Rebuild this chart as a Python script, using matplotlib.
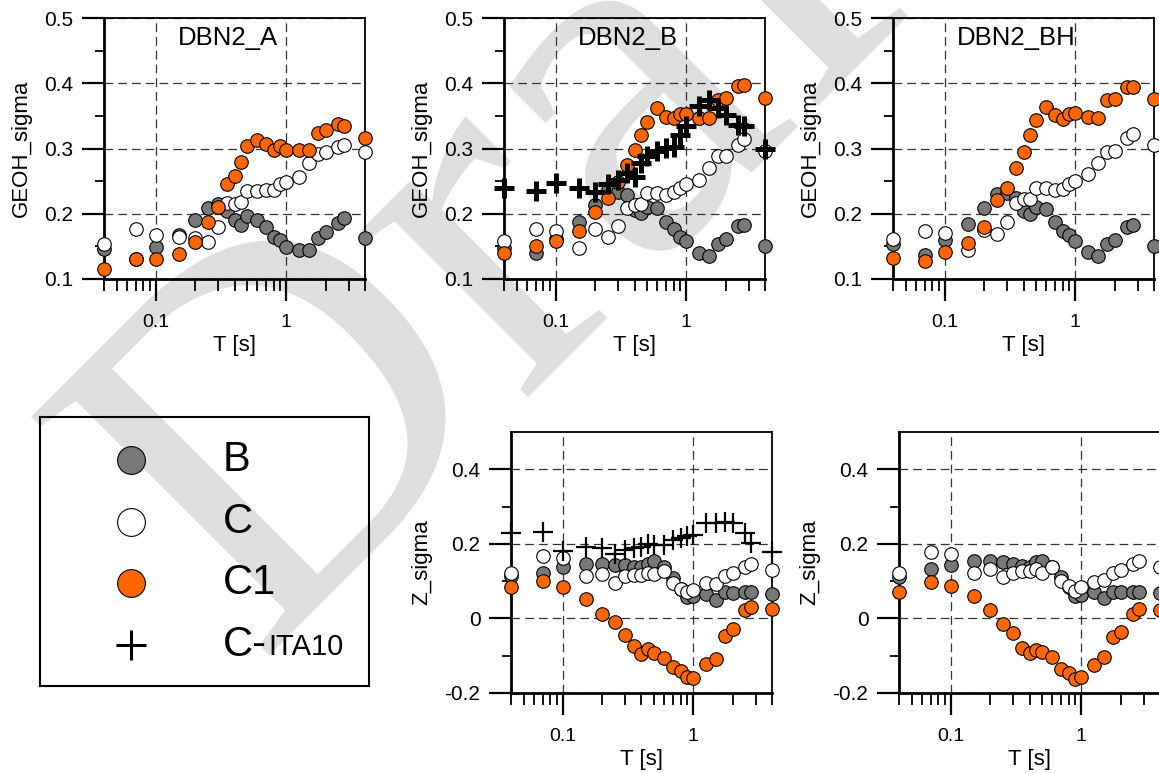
import matplotlib
matplotlib.use("Agg")
import matplotlib.pyplot as plt
from matplotlib.ticker import FixedLocator, FixedFormatter, NullFormatter

plt.rcParams["font.family"] = ["Liberation Sans", "DejaVu Sans"]

# ---------------------------------------------------------------------------
# Data
# ---------------------------------------------------------------------------
periods = [0.04, 0.07, 0.1, 0.15, 0.2, 0.25, 0.3, 0.35, 0.4, 0.45, 0.5, 0.6,
           0.7, 0.8, 0.9, 1.0, 1.25, 1.5, 1.75, 2.0, 2.5, 2.75, 4.0]

# GEOH_sigma, DBN2_A
a_B = [0.146, 0.130, 0.149, 0.167, 0.191, 0.209, 0.215, 0.204, 0.191, 0.183, 0.196, 0.191,
       0.180, 0.165, 0.160, 0.149, 0.144, 0.145, 0.163, 0.172, 0.186, 0.193, 0.163]
a_C = [0.154, 0.176, 0.168, 0.165, 0.163, 0.156, 0.179, 0.216, 0.215, 0.218, 0.235, 0.235,
       0.236, 0.237, 0.246, 0.249, 0.256, 0.278, 0.292, 0.294, 0.303, 0.306, 0.294]
a_C1 = [0.115, 0.131, 0.131, 0.139, 0.156, 0.188, 0.211, 0.245, 0.258, 0.279, 0.304, 0.313,
        0.307, 0.297, 0.304, 0.298, 0.297, 0.298, 0.323, 0.329, 0.337, 0.334, 0.316]

# GEOH_sigma, DBN2_B
b_B = [0.148, 0.140, 0.162, 0.188, 0.214, 0.237, 0.234, 0.228, 0.206, 0.201, 0.211, 0.209,
       0.187, 0.176, 0.165, 0.158, 0.140, 0.136, 0.153, 0.161, 0.181, 0.183, 0.151]
b_C = [0.158, 0.176, 0.173, 0.148, 0.177, 0.164, 0.181, 0.209, 0.214, 0.215, 0.232, 0.232,
       0.228, 0.233, 0.239, 0.245, 0.252, 0.270, 0.288, 0.288, 0.306, 0.315, 0.296]
b_C1 = [0.140, 0.150, 0.159, 0.174, 0.203, 0.224, 0.248, 0.274, 0.298, 0.320, 0.340, 0.362,
        0.349, 0.347, 0.353, 0.353, 0.347, 0.347, 0.375, 0.377, 0.396, 0.398, 0.377]
b_ITA = [0.240, 0.235, 0.247, 0.240, 0.234, 0.245, 0.252, 0.262, 0.257, 0.278, 0.288, 0.296,
         0.301, 0.303, 0.321, 0.334, 0.365, 0.375, 0.362, 0.352, 0.336, 0.335, 0.299]

# GEOH_sigma, DBN2_BH
bh_B = [0.153, 0.137, 0.160, 0.185, 0.209, 0.231, 0.232, 0.224, 0.204, 0.199, 0.211, 0.207,
        0.188, 0.173, 0.168, 0.158, 0.141, 0.136, 0.153, 0.160, 0.180, 0.182, 0.150]
bh_C = [0.161, 0.174, 0.170, 0.144, 0.175, 0.169, 0.187, 0.217, 0.222, 0.223, 0.239, 0.239,
        0.236, 0.238, 0.246, 0.250, 0.261, 0.278, 0.294, 0.296, 0.316, 0.322, 0.305]
bh_C1 = [0.132, 0.127, 0.141, 0.155, 0.180, 0.221, 0.239, 0.270, 0.294, 0.321, 0.344, 0.364,
         0.352, 0.345, 0.353, 0.354, 0.349, 0.346, 0.374, 0.376, 0.395, 0.395, 0.376]

# Z_sigma, DBN2_B
zb_B = [0.114, 0.123, 0.137, 0.147, 0.147, 0.144, 0.144, 0.137, 0.137, 0.147, 0.153, 0.137,
        0.108, 0.079, 0.058, 0.061, 0.065, 0.050, 0.070, 0.067, 0.070, 0.071, 0.065]
zb_C = [0.123, 0.168, 0.163, 0.114, 0.119, 0.096, 0.114, 0.117, 0.117, 0.121, 0.119, 0.126,
        0.094, 0.079, 0.070, 0.076, 0.094, 0.092, 0.114, 0.123, 0.138, 0.146, 0.129]
zb_C1 = [0.083, 0.101, 0.083, 0.052, 0.013, -0.009, -0.044, -0.073, -0.096, -0.082, -0.094, -0.106,
         -0.131, -0.142, -0.158, -0.160, -0.121, -0.109, -0.046, -0.029, 0.022, 0.031, 0.025]
zb_ITA = [0.228, 0.232, 0.181, 0.192, 0.190, 0.172, 0.183, 0.188, 0.192, 0.199, 0.197, 0.196,
          0.210, 0.215, 0.221, 0.224, 0.256, 0.257, 0.259, 0.257, 0.228, 0.201, 0.177]

# Z_sigma, DBN2_BH
zbh_B = [0.112, 0.132, 0.144, 0.154, 0.154, 0.152, 0.147, 0.141, 0.137, 0.152, 0.154, 0.137,
         0.110, 0.083, 0.061, 0.063, 0.070, 0.056, 0.071, 0.070, 0.070, 0.072, 0.067]
zbh_C = [0.121, 0.177, 0.172, 0.121, 0.132, 0.110, 0.123, 0.126, 0.126, 0.132, 0.123, 0.137,
         0.101, 0.086, 0.074, 0.083, 0.099, 0.103, 0.121, 0.129, 0.146, 0.154, 0.138]
zbh_C1 = [0.070, 0.099, 0.086, 0.061, 0.022, -0.015, -0.039, -0.078, -0.093, -0.085, -0.091, -0.103,
          -0.136, -0.147, -0.163, -0.156, -0.125, -0.104, -0.049, -0.036, 0.013, 0.025, 0.022]

legend_labels = ["B", "C", "C1", "C-"]
legend_small = "ITA10"

GREY = "#787878"
ORANGE = "#ff6600"

x_major = [0.1, 1]
x_major_lbl = ["0.1", "1"]
x_minor = [0.04, 0.05, 0.06, 0.07, 0.08, 0.09, 0.2, 0.3, 0.4, 0.5, 0.6, 0.7, 0.8, 0.9, 2, 3, 4]

geoh_major = [0.1, 0.2, 0.3, 0.4, 0.5]
geoh_minor = [0.15, 0.25, 0.35, 0.45]
z_major = [-0.2, 0, 0.2, 0.4]
z_minor = [-0.1, 0.1, 0.3]

# ---------------------------------------------------------------------------
# Figure
# ---------------------------------------------------------------------------
W, H = 1159, 773
fig = plt.figure(figsize=(W / 100, H / 100), dpi=100)

# light "Draft" watermark behind everything
fig.text(255 / W, (H - 655) / H, "Draft", rotation=45, rotation_mode="anchor",
         ha="left", va="baseline", fontsize=370, family="Liberation Serif",
         color="#dedede", zorder=-10)


def px_axes(left, top, w=261, h=261):
    return fig.add_axes([left / W, (H - top - h) / H, w / W, h / H])


def style(ax, ylim, ymaj, ymin, ylabel, ylabel_x):
    ax.set_facecolor("none")
    ax.set_xscale("log")
    ax.set_xlim(0.04, 4)
    ax.set_ylim(*ylim)
    ax.xaxis.set_major_locator(FixedLocator(x_major))
    ax.xaxis.set_major_formatter(FixedFormatter(x_major_lbl))
    ax.xaxis.set_minor_locator(FixedLocator(x_minor))
    ax.xaxis.set_minor_formatter(NullFormatter())
    ax.yaxis.set_major_locator(FixedLocator(ymaj))
    ax.yaxis.set_major_formatter(FixedFormatter([f"{v:g}" for v in ymaj]))
    ax.yaxis.set_minor_locator(FixedLocator(ymin))
    ax.tick_params(which="both", direction="out", top=False, right=False, color="black")
    ax.tick_params(axis="x", which="major", length=16, width=1.6, pad=9, labelsize=14)
    ax.tick_params(axis="x", which="minor", length=8.5, width=1.3)
    ax.tick_params(axis="y", which="major", length=16, width=1.6, pad=6, labelsize=15)
    ax.tick_params(axis="y", which="minor", length=6.5, width=1.3)
    ax.grid(True, which="major", linestyle=(0, (7, 4)), color="#333333", lw=0.9)
    for s in ("left", "bottom"):
        ax.spines[s].set_linewidth(2.0)
    for s in ("top", "right"):
        ax.spines[s].set_linewidth(1.3)
    ax.set_xlabel("T [s]", fontsize=16)
    ax.xaxis.set_label_coords(0.5, -0.215)
    ax.set_ylabel(ylabel, fontsize=16)
    ax.yaxis.set_label_coords(ylabel_x, 0.5)


def draw(ax, grey, white, orange, ita=None, bold=False):
    kw = dict(s=95, edgecolors="black", linewidths=0.8, clip_on=False)
    ax.scatter(periods, grey, color=GREY, zorder=4, **kw)
    ax.scatter(periods, white, color="white", zorder=5, **kw)
    ax.scatter(periods, orange, color=ORANGE, zorder=6, **kw)
    if ita is not None:
        if bold:
            ax.scatter(periods, ita, marker="+", s=190, color="black",
                       linewidths=3.6, zorder=7, clip_on=False)
        else:
            ax.scatter(periods, ita, marker="+", s=200, color="black",
                       linewidths=1.6, zorder=7, clip_on=False)


# ── top row: GEOH_sigma ───────────────────────────────────────────────────
top_panels = [
    (104, "DBN2_A", a_B, a_C, a_C1, None),
    (504, "DBN2_B", b_B, b_C, b_C1, b_ITA),
    (893, "DBN2_BH", bh_B, bh_C, bh_C1, None),
]
for left, name, g, w, o, ita in top_panels:
    ax = px_axes(left, 18)
    style(ax, (0.1, 0.5), geoh_major, geoh_minor, "GEOH_sigma", -0.275)
    draw(ax, g, w, o, ita, bold=True)
    ax.text(0.473, 0.897, name, transform=ax.transAxes, ha="center",
            va="baseline", fontsize=18.5)

# ── bottom row: Z_sigma ───────────────────────────────────────────────────
bottom_panels = [
    (511, zb_B, zb_C, zb_C1, zb_ITA),
    (899, zbh_B, zbh_C, zbh_C1, None),
]
for left, g, w, o, ita in bottom_panels:
    ax = px_axes(left, 432)
    style(ax, (-0.2, 0.5), z_major, z_minor, "Z_sigma", -0.30)
    draw(ax, g, w, o, ita, bold=False)

# ── legend box ────────────────────────────────────────────────────────────
lax = px_axes(40, 417, w=329, h=269)
lax.set_xlim(0, 1)
lax.set_ylim(0, 1)
lax.set_xticks([])
lax.set_yticks([])
lax.set_facecolor("none")
for s in lax.spines.values():
    s.set_linewidth(1.5)

rows_y = [0.84, 0.61, 0.383, 0.152]
mx, tx = 0.277, 0.556
lax.plot([mx], [rows_y[0]], "o", ms=20, mfc=GREY, mec="black", mew=0.8)
lax.plot([mx], [rows_y[1]], "o", ms=20, mfc="white", mec="black", mew=0.8)
lax.plot([mx], [rows_y[2]], "o", ms=20, mfc=ORANGE, mec="black", mew=0.8)
lax.plot([mx], [rows_y[3]], "+", ms=22, color="black", mew=2.2)

texts = []
for lbl, yy in zip(legend_labels, rows_y):
    t = lax.text(tx, yy, lbl, ha="left", va="center", fontsize=30)
    texts.append(t)
lax.annotate(legend_small, xy=(1, 0), xycoords=texts[-1], xytext=(1, 3),
             textcoords="offset points", ha="left", va="bottom", fontsize=21)

fig.savefig("out.png", dpi=100)
